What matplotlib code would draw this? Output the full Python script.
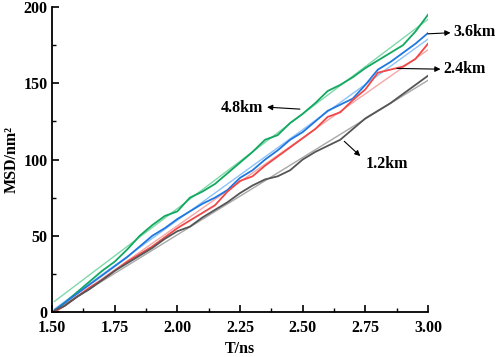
import numpy as np
import matplotlib
matplotlib.use("Agg")
import matplotlib.pyplot as plt
from matplotlib.ticker import MultipleLocator

# time axis (ns)
t = [1.51, 1.55, 1.60, 1.65, 1.70, 1.75, 1.80, 1.85, 1.90, 1.95, 2.00,
     2.05, 2.10, 2.15, 2.20, 2.25, 2.30, 2.35, 2.40, 2.45, 2.50,
     2.55, 2.60, 2.65, 2.70, 2.75, 2.80, 2.85, 2.90, 2.95, 3.00]

msd_48 = [1, 6, 13, 20, 27, 33, 41, 50, 57, 63, 66,
          75, 79, 84, 91, 98, 105, 113, 116, 124, 130,
          137, 145, 149, 154, 160, 165, 170, 175, 184, 195]
msd_36 = [1, 6, 12, 18, 24, 30, 36, 43, 50, 55, 61,
          66, 71, 75, 80, 88, 93, 100, 106, 113, 118,
          125, 132, 136, 140, 149, 159, 164, 170, 176, 183]
msd_24 = [0, 4, 10, 16, 21, 27, 33, 38, 43, 49, 55,
          60, 65, 70, 79, 86, 89, 96, 102, 108, 114,
          120, 128, 131, 139, 146, 157, 159, 161, 166, 176]
msd_12 = [1, 4, 10, 15, 21, 27, 32, 37, 42, 48, 53,
          56, 62, 67, 72, 78, 83, 87, 89, 93, 100,
          105, 109, 113, 120, 127, 132, 137, 143, 149, 155]

# linear fits, endpoints read at t=1.51 and t=3.00
fit_t = [1.51, 3.00]
fit_48 = [7, 192]
fit_36 = [2, 179]
fit_24 = [0, 172]
fit_12 = [1, 152]

plt.rcParams['font.family'] = ['Liberation Serif', 'DejaVu Serif']
plt.rcParams['font.weight'] = 'bold'
plt.rcParams['axes.labelweight'] = 'bold'

fig = plt.figure(figsize=(4.98, 3.57), dpi=100)
ax = fig.add_axes([0.1044, 0.126, 0.755, 0.854])

ax.plot(fit_t, fit_48, color='#80d8aa', lw=1.0)
ax.plot(fit_t, fit_36, color='#8cc3f7', lw=1.0)
ax.plot(fit_t, fit_24, color='#f7a6a6', lw=1.0)
ax.plot(fit_t, fit_12, color='#a8a8a8', lw=1.0)

ax.plot(t, msd_48, color='#12a860', lw=1.3)
ax.plot(t, msd_36, color='#1f78e0', lw=1.3)
ax.plot(t, msd_24, color='#f04848', lw=1.3)
ax.plot(t, msd_12, color='#555555', lw=1.3)

ax.set_xlim(1.5, 3.0)
ax.set_ylim(0, 200)
ax.xaxis.set_major_locator(MultipleLocator(0.25))
ax.xaxis.set_minor_locator(MultipleLocator(0.125))
ax.yaxis.set_major_locator(MultipleLocator(50))
ax.yaxis.set_minor_locator(MultipleLocator(25))
ax.xaxis.set_major_formatter(plt.FormatStrFormatter('%.2f'))
ax.tick_params(which='major', direction='in', length=5, width=1.2, labelsize=11.5)
ax.tick_params(axis='x', which='major', pad=5.5)
ax.tick_params(axis='y', which='major', pad=3)
ax.tick_params(which='minor', direction='in', length=3, width=1.0)
for lab in ax.get_xticklabels() + ax.get_yticklabels():
    lab.set_fontweight('bold')
ax.spines['top'].set_visible(False)
ax.spines['right'].set_visible(False)
ax.spines['left'].set_linewidth(1.3)
ax.spines['bottom'].set_linewidth(1.3)

ax.set_xlabel('T/ns', fontsize=11.5, fontweight='bold', labelpad=4)
ax.set_ylabel('MSD/nm²', fontsize=11.5, fontweight='bold', labelpad=3)

arrow = dict(arrowstyle='-|>', color='black', lw=0.8, mutation_scale=8, shrinkA=0, shrinkB=0)
fs = 11.5
ax.annotate('', xy=(2.358, 134.4), xytext=(2.489, 133.1), arrowprops=arrow)
ax.text(2.258, 134.0, '4.8km', ha='center', fontsize=fs, fontweight='bold', va='center')
ax.annotate('', xy=(3.09, 183.2), xytext=(3.0, 182.5), arrowprops=arrow, annotation_clip=False)
ax.text(3.10, 184.0, '3.6km', ha='left', fontsize=fs, fontweight='bold', va='center', clip_on=False)
ax.annotate('', xy=(3.05, 159.3), xytext=(2.876, 159.8), arrowprops=arrow, annotation_clip=False)
ax.text(3.06, 159.3, '2.4km', ha='left', fontsize=fs, fontweight='bold', va='center', clip_on=False)
ax.annotate('', xy=(2.73, 102.3), xytext=(2.666, 112.0), arrowprops=arrow)
ax.text(2.753, 97.0, '1.2km', ha='left', fontsize=fs, fontweight='bold', va='center')

fig.savefig('out.png', dpi=100)
